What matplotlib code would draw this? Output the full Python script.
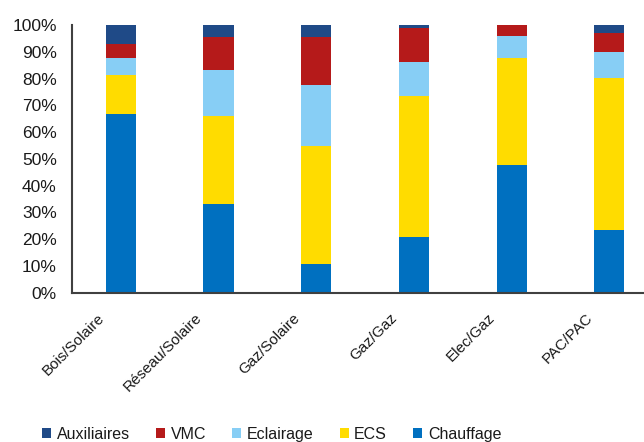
#!/usr/bin/env python

import numpy
import matplotlib
matplotlib.use('Agg')
import matplotlib.pyplot
import matplotlib.transforms

# ------------------------------------------------------------------------------
# Data (share of each end use, in %)
#
categories = ['Bois/Solaire', 'Réseau/Solaire', 'Gaz/Solaire', 'Gaz/Gaz',
              'Elec/Gaz', 'PAC/PAC']
chauffage = [66.8, 33.0, 10.6, 20.8, 47.7, 23.4]
ecs = [14.7, 33.1, 44.1, 52.9, 40.2, 56.8]
eclairage = [6.4, 17.2, 22.9, 12.4, 8.2, 9.6]
vmc = [5.1, 12.2, 17.9, 12.7, 3.9, 7.1]
auxiliaires = [7.0, 4.5, 4.5, 1.2, 0.0, 3.1]
y_ticks = [0, 10, 20, 30, 40, 50, 60, 70, 80, 90, 100]

# ------------------------------------------------------------------------------
# Style
#
matplotlib.rcParams['font.family'] = ['Liberation Sans', 'DejaVu Sans']
matplotlib.rcParams['font.size'] = 12
axis_color = '#404040'
text_color = '#1a1a1a'

series = [
    ('Chauffage', chauffage, '#0070c0'),
    ('ECS', ecs, '#ffdc00'),
    ('Eclairage', eclairage, '#87cef5'),
    ('VMC', vmc, '#b51a1a'),
    ('Auxiliaires', auxiliaires, '#1f4a87'),
]

fig = matplotlib.pyplot.figure(figsize=(6.44, 4.42), dpi=100)
ax = fig.add_axes([0.112, 0.338, 0.91, 0.605])

x = numpy.arange(len(categories))
bottom = numpy.zeros(len(categories))
handles = {}
for name, values, color in series:
    bars = ax.bar(x, values, width=0.31, bottom=bottom, color=color,
                  edgecolor='none', label=name)
    handles[name] = bars
    bottom += numpy.array(values)

# ------------------------------------------------------------------------------
# Axes
#
ax.set_xlim(-0.5, len(categories) - 0.5)
ax.set_ylim(0, 100)
ax.set_yticks(y_ticks)
ax.set_yticklabels(['{}%'.format(t) for t in y_ticks], color=text_color,
                   fontsize=12.5)
ax.tick_params(axis='y', length=0, pad=11)
ax.tick_params(axis='x', length=0, pad=0)
ax.set_xticks(x)
ax.set_xticklabels(categories, rotation=45, ha='right', va='center',
                   rotation_mode='anchor', color=text_color, fontsize=11)
shift = matplotlib.transforms.ScaledTranslation(-19 / 100, -23 / 100,
                                                fig.dpi_scale_trans)
for label in ax.get_xticklabels():
    label.set_transform(label.get_transform() + shift)

for side in ['top', 'right']:
    ax.spines[side].set_visible(False)
for side in ['left', 'bottom']:
    ax.spines[side].set_color(axis_color)
    ax.spines[side].set_linewidth(1.5)

# ------------------------------------------------------------------------------
# Legend
#
order = ['Auxiliaires', 'VMC', 'Eclairage', 'ECS', 'Chauffage']
fig.legend([handles[n] for n in order], order, loc='center',
           bbox_to_anchor=(0.422, 0.018), ncol=5, frameon=False,
           handlelength=0.55, handleheight=0.55, handletextpad=0.35,
           columnspacing=1.65, labelcolor=text_color, fontsize=11.5)

matplotlib.pyplot.savefig('out.png', dpi=100)
